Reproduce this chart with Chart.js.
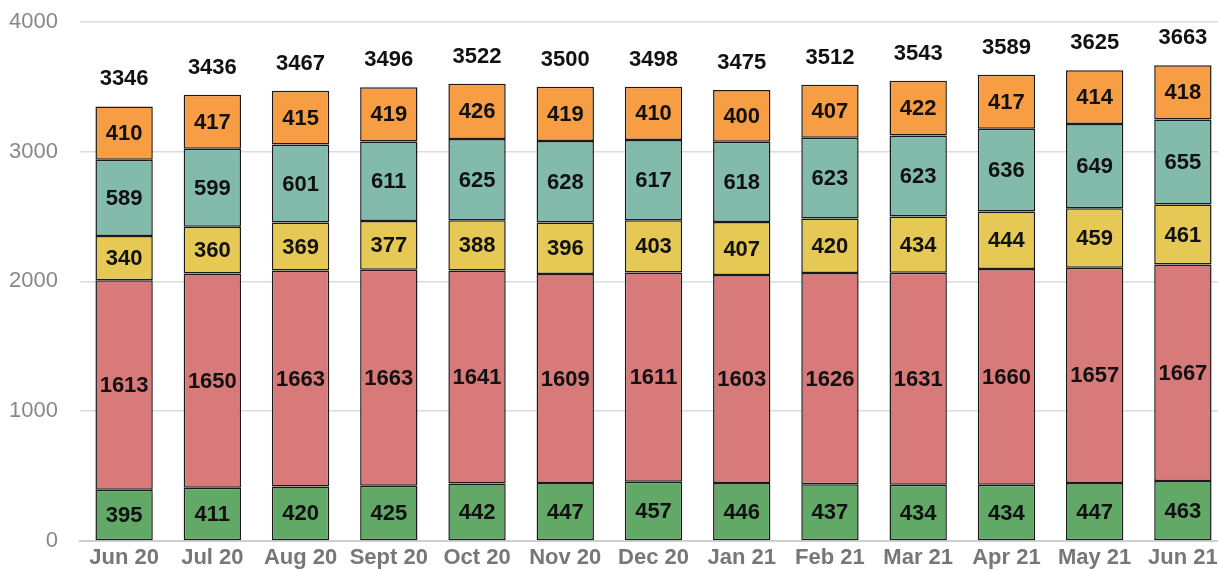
<!DOCTYPE html>
<html><head><meta charset="utf-8">
<script src="https://cdn.jsdelivr.net/npm/chart.js@4"></script>
<style>html,body{margin:0;padding:0;overflow:hidden;background:#fff}canvas{display:block}</style>
</head><body><canvas id="c" width="1227" height="571" style="width:1227px;height:571px"></canvas>
<script>
const categories = ["Jun 20","Jul 20","Aug 20","Sept 20","Oct 20","Nov 20","Dec 20","Jan 21","Feb 21","Mar 21","Apr 21","May 21","Jun 21"];
const seriesGreen  = [395,411,420,425,442,447,457,446,437,434,434,447,463];
const seriesRed    = [1613,1650,1663,1663,1641,1609,1611,1603,1626,1631,1660,1657,1667];
const seriesYellow = [340,360,369,377,388,396,403,407,420,434,444,459,461];
const seriesTeal   = [589,599,601,611,625,628,617,618,623,623,636,649,655];
const seriesOrange = [410,417,415,419,426,419,410,400,407,422,417,414,418];
const totals       = [3346,3436,3467,3496,3522,3500,3498,3475,3512,3543,3589,3625,3663];
const yTicks = [0,1000,2000,3000,4000];

const FONT = '"Liberation Sans", Arial, sans-serif';
const mk = (label, data, color) => ({label, data, backgroundColor: color, borderColor: '#1a1a1a', borderWidth: 1.5, borderSkipped: false, barPercentage: 0.65, categoryPercentage: 1.0});

const labelPlugin = {
  id: 'labels',
  afterDatasetsDraw(chart) {
    const ctx = chart.ctx;
    ctx.save();
    ctx.fillStyle = '#111';
    ctx.textAlign = 'center';
    ctx.textBaseline = 'middle';
    ctx.font = 'bold 22px ' + FONT;
    chart.data.datasets.forEach((ds, i) => {
      const meta = chart.getDatasetMeta(i);
      meta.data.forEach((bar, j) => {
        const mid = (bar.y + bar.base) / 2;
        ctx.fillText(String(ds.data[j]), bar.x, mid + 1);
      });
    });
    const last = chart.getDatasetMeta(chart.data.datasets.length - 1);
    last.data.forEach((bar, j) => {
      ctx.fillText(String(totals[j]), bar.x, bar.y - 27);
    });
    ctx.restore();
  }
};

new Chart(document.getElementById('c'), {
  type: 'bar',
  data: {
    labels: categories,
    datasets: [
      mk('A', seriesGreen, '#62a866'),
      mk('B', seriesRed, '#d77a79'),
      mk('C', seriesYellow, '#e6c855'),
      mk('D', seriesTeal, '#82bbab'),
      mk('E', seriesOrange, '#f79d43')
    ]
  },
  options: {
    responsive: false,
    animation: false,
    layout: { padding: { top: 21.6, right: 0, left: 0, bottom: 0 } },
    plugins: { legend: { display: false }, tooltip: { enabled: false } },
    scales: {
      x: {
        stacked: true,
        grid: { display: false, drawTicks: false },
        border: { color: '#cfcfcf', width: 2 },
        afterFit(scale) { scale.height = 30; scale.paddingLeft = 0; scale.paddingRight = 0; },
        ticks: { color: '#777', font: { family: FONT, size: 22, weight: 'bold' }, padding: 4, maxRotation: 0, autoSkip: false }
      },
      y: {
        stacked: true,
        min: 0, max: 4000,
        afterBuildTicks(scale) { scale.ticks = yTicks.map(v => ({value: v})); },
        afterFit(scale) { scale.width = 80; scale.paddingTop = 0; scale.paddingBottom = 0; },
        grid: { color: '#dcdcdc', lineWidth: 1.5, drawTicks: false },
        border: { display: false },
        ticks: { color: '#888', font: { family: FONT, size: 22 }, padding: 22, callback: v => String(v) }
      }
    }
  },
  plugins: [labelPlugin]
});
</script></body></html>
